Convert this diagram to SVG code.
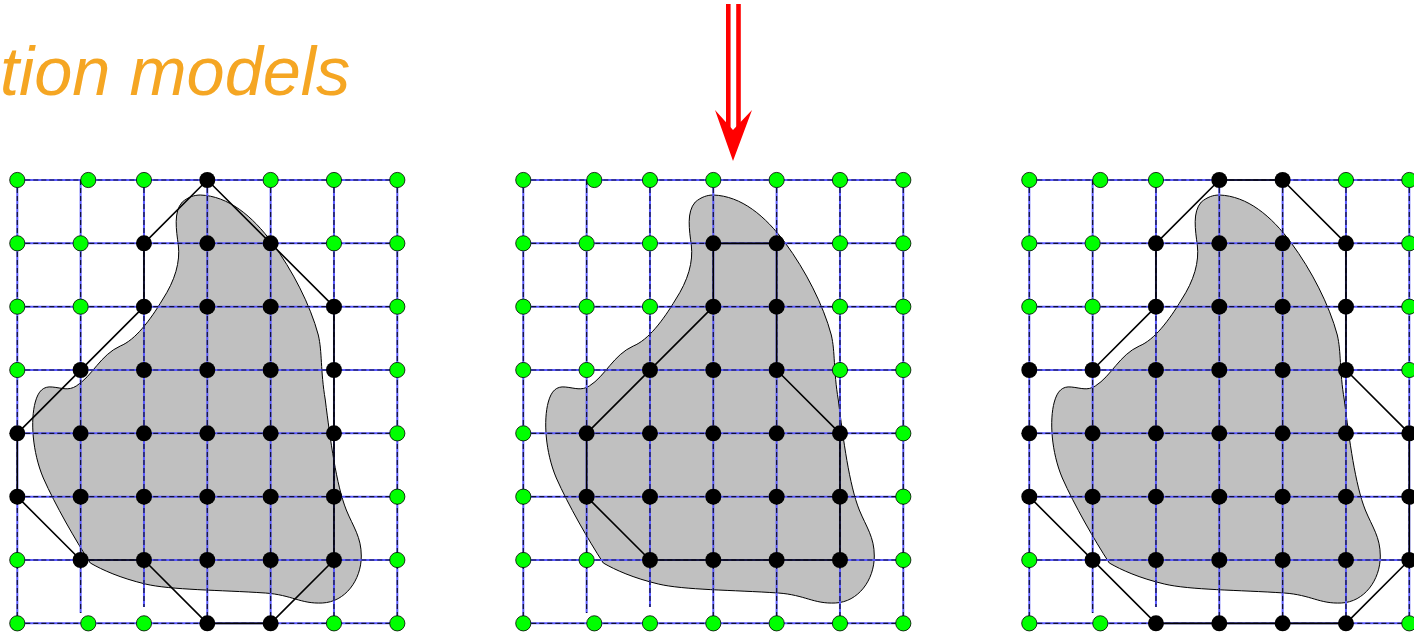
<svg xmlns="http://www.w3.org/2000/svg" xmlns:xlink="http://www.w3.org/1999/xlink" width="1414" height="635" viewBox="0 0 1414 635">
<style>
.title{font-family:"Liberation Sans",Arial,sans-serif;font-style:italic;font-size:68.5px;fill:#F5A623}
.gbase{fill:none;stroke:#5a5aff;stroke-width:2}
.gdash{fill:none;stroke:#111133;stroke-width:1.2;stroke-dasharray:5 3}
.blob{fill:#c0c0c0;stroke:#000;stroke-width:1}
.contour{fill:none;stroke:#000;stroke-width:1.6;stroke-linejoin:round}
.arrow{stroke:#ff0000;stroke-width:4.6;fill:none}
</style>
<defs>
<circle id="gd" r="7.6" fill="#00ff00" stroke="#000" stroke-width="0.8"/>
<circle id="bd" r="8" fill="#000"/>
<path id="grid" d="M0 0H380M0 63.33H380M0 126.67H380M0 190H380M0 253.33H380M0 316.67H380M0 380H380M0 443.33H380M0 0V443.33M63.33 0V433M126.67 0V427M190 0V443.33M253.33 0V443.33M316.67 0V443.33M380 0V443.33"/>
<path id="blobshape" d="M190,15 C218,16 242,36 262,63 C282,90 300,125 308,155 C312,172 310,190 315,220 C320,260 326,305 336,330 C343,347 351,357 351,376 C351,400 335,422 312,423 C290,424 282,415 255,413 C210,410 160,410 135,404 C110,398 92,390 80,383 C65,360 45,325 33,298 C22,272 20,240 25,222 C28,211 33,206 42,207 C52,208 58,211 66,206 C82,196 90,175 110,166 C125,160 140,140 152,120 C165,100 170,82 168,65 C166,50 163,32 172,22 C178,17 184,15 190,15 Z"/>
</defs>

<text class="title" x="0" y="95">tion models</text>

<g id="arrow">
<line class="arrow" x1="728.3" y1="4" x2="728.3" y2="128"/>
<line class="arrow" x1="738.5" y1="4" x2="738.5" y2="128"/>
<polygon points="715,110 733,130 752,110 733,161" fill="#ff0000"/>
</g>

<g id="panel1" transform="translate(17.3,180)">
<use href="#blobshape" class="blob" transform="translate(-7,0)"/>
<g id="grid1"><use href="#grid" class="gbase"/><use href="#grid" class="gdash"/></g>
<polygon id="contour1" class="contour" points="190,0 316.67,126.67 316.67,380 253.33,443.33 190,443.33 126.67,380 63.33,380 0,316.67 0,253.33 126.67,126.67 126.67,63.33"/>
<g id="dots1">
<use href="#gd" x="0" y="0"/><use href="#gd" x="71" y="0"/><use href="#gd" x="126.67" y="0"/><use href="#bd" x="190" y="0"/><use href="#gd" x="253.33" y="0"/><use href="#gd" x="316.67" y="0"/><use href="#gd" x="380" y="0"/>
<use href="#gd" x="0" y="63.33"/><use href="#gd" x="63.33" y="63.33"/><use href="#bd" x="126.67" y="63.33"/><use href="#bd" x="190" y="63.33"/><use href="#bd" x="253.33" y="63.33"/><use href="#gd" x="316.67" y="63.33"/><use href="#gd" x="380" y="63.33"/>
<use href="#gd" x="0" y="126.67"/><use href="#gd" x="63.33" y="126.67"/><use href="#bd" x="126.67" y="126.67"/><use href="#bd" x="190" y="126.67"/><use href="#bd" x="253.33" y="126.67"/><use href="#bd" x="316.67" y="126.67"/><use href="#gd" x="380" y="126.67"/>
<use href="#gd" x="0" y="190"/><use href="#bd" x="63.33" y="190"/><use href="#bd" x="126.67" y="190"/><use href="#bd" x="190" y="190"/><use href="#bd" x="253.33" y="190"/><use href="#bd" x="316.67" y="190"/><use href="#gd" x="380" y="190"/>
<use href="#bd" x="0" y="253.33"/><use href="#bd" x="63.33" y="253.33"/><use href="#bd" x="126.67" y="253.33"/><use href="#bd" x="190" y="253.33"/><use href="#bd" x="253.33" y="253.33"/><use href="#bd" x="316.67" y="253.33"/><use href="#gd" x="380" y="253.33"/>
<use href="#bd" x="0" y="316.67"/><use href="#bd" x="63.33" y="316.67"/><use href="#bd" x="126.67" y="316.67"/><use href="#bd" x="190" y="316.67"/><use href="#bd" x="253.33" y="316.67"/><use href="#bd" x="316.67" y="316.67"/><use href="#gd" x="380" y="316.67"/>
<use href="#gd" x="0" y="380"/><use href="#bd" x="63.33" y="380"/><use href="#bd" x="126.67" y="380"/><use href="#bd" x="190" y="380"/><use href="#bd" x="253.33" y="380"/><use href="#bd" x="316.67" y="380"/><use href="#gd" x="380" y="380"/>
<use href="#gd" x="0" y="443.33"/><use href="#gd" x="71" y="443.33"/><use href="#gd" x="126.67" y="443.33"/><use href="#bd" x="190" y="443.33"/><use href="#bd" x="253.33" y="443.33"/><use href="#gd" x="316.67" y="443.33"/><use href="#gd" x="380" y="443.33"/>
</g>
</g>

<g id="panel2" transform="translate(523.3,180)">
<use href="#blobshape" class="blob"/>
<g id="grid2"><use href="#grid" class="gbase"/><use href="#grid" class="gdash"/></g>
<polygon id="contour2" class="contour" points="190,63.33 253.33,63.33 253.33,190 316.67,253.33 316.67,380 126.67,380 63.33,316.67 63.33,253.33 190,126.67"/>
<g id="dots2">
<use href="#gd" x="0" y="0"/><use href="#gd" x="71" y="0"/><use href="#gd" x="126.67" y="0"/><use href="#gd" x="190" y="0"/><use href="#gd" x="253.33" y="0"/><use href="#gd" x="316.67" y="0"/><use href="#gd" x="380" y="0"/>
<use href="#gd" x="0" y="63.33"/><use href="#gd" x="63.33" y="63.33"/><use href="#gd" x="126.67" y="63.33"/><use href="#bd" x="190" y="63.33"/><use href="#bd" x="253.33" y="63.33"/><use href="#gd" x="316.67" y="63.33"/><use href="#gd" x="380" y="63.33"/>
<use href="#gd" x="0" y="126.67"/><use href="#gd" x="63.33" y="126.67"/><use href="#gd" x="126.67" y="126.67"/><use href="#bd" x="190" y="126.67"/><use href="#bd" x="253.33" y="126.67"/><use href="#gd" x="316.67" y="126.67"/><use href="#gd" x="380" y="126.67"/>
<use href="#gd" x="0" y="190"/><use href="#gd" x="63.33" y="190"/><use href="#bd" x="126.67" y="190"/><use href="#bd" x="190" y="190"/><use href="#bd" x="253.33" y="190"/><use href="#gd" x="316.67" y="190"/><use href="#gd" x="380" y="190"/>
<use href="#gd" x="0" y="253.33"/><use href="#bd" x="63.33" y="253.33"/><use href="#bd" x="126.67" y="253.33"/><use href="#bd" x="190" y="253.33"/><use href="#bd" x="253.33" y="253.33"/><use href="#bd" x="316.67" y="253.33"/><use href="#gd" x="380" y="253.33"/>
<use href="#gd" x="0" y="316.67"/><use href="#bd" x="63.33" y="316.67"/><use href="#bd" x="126.67" y="316.67"/><use href="#bd" x="190" y="316.67"/><use href="#bd" x="253.33" y="316.67"/><use href="#bd" x="316.67" y="316.67"/><use href="#gd" x="380" y="316.67"/>
<use href="#gd" x="0" y="380"/><use href="#gd" x="63.33" y="380"/><use href="#bd" x="126.67" y="380"/><use href="#bd" x="190" y="380"/><use href="#bd" x="253.33" y="380"/><use href="#bd" x="316.67" y="380"/><use href="#gd" x="380" y="380"/>
<use href="#gd" x="0" y="443.33"/><use href="#gd" x="71" y="443.33"/><use href="#gd" x="126.67" y="443.33"/><use href="#gd" x="190" y="443.33"/><use href="#gd" x="253.33" y="443.33"/><use href="#gd" x="316.67" y="443.33"/><use href="#gd" x="380" y="443.33"/>
</g>
</g>

<g id="panel3" transform="translate(1029.3,180)">
<use href="#blobshape" class="blob"/>
<g id="grid3"><use href="#grid" class="gbase"/><use href="#grid" class="gdash"/></g>
<polyline id="contour3" class="contour" points="63.33,190 126.67,126.67 126.67,63.33 190,0 253.33,0 316.67,63.33 316.67,190 380,253.33 380,380 316.67,443.33 126.67,443.33 0,316.67"/>
<g id="dots3">
<use href="#gd" x="0" y="0"/><use href="#gd" x="71" y="0"/><use href="#gd" x="126.67" y="0"/><use href="#bd" x="190" y="0"/><use href="#bd" x="253.33" y="0"/><use href="#gd" x="316.67" y="0"/><use href="#gd" x="380" y="0"/>
<use href="#gd" x="0" y="63.33"/><use href="#gd" x="63.33" y="63.33"/><use href="#bd" x="126.67" y="63.33"/><use href="#bd" x="190" y="63.33"/><use href="#bd" x="253.33" y="63.33"/><use href="#bd" x="316.67" y="63.33"/><use href="#gd" x="380" y="63.33"/>
<use href="#gd" x="0" y="126.67"/><use href="#gd" x="63.33" y="126.67"/><use href="#bd" x="126.67" y="126.67"/><use href="#bd" x="190" y="126.67"/><use href="#bd" x="253.33" y="126.67"/><use href="#bd" x="316.67" y="126.67"/><use href="#gd" x="380" y="126.67"/>
<use href="#bd" x="0" y="190"/><use href="#bd" x="63.33" y="190"/><use href="#bd" x="126.67" y="190"/><use href="#bd" x="190" y="190"/><use href="#bd" x="253.33" y="190"/><use href="#bd" x="316.67" y="190"/><use href="#gd" x="380" y="190"/>
<use href="#bd" x="0" y="253.33"/><use href="#bd" x="63.33" y="253.33"/><use href="#bd" x="126.67" y="253.33"/><use href="#bd" x="190" y="253.33"/><use href="#bd" x="253.33" y="253.33"/><use href="#bd" x="316.67" y="253.33"/><use href="#bd" x="380" y="253.33"/>
<use href="#bd" x="0" y="316.67"/><use href="#bd" x="63.33" y="316.67"/><use href="#bd" x="126.67" y="316.67"/><use href="#bd" x="190" y="316.67"/><use href="#bd" x="253.33" y="316.67"/><use href="#bd" x="316.67" y="316.67"/><use href="#bd" x="380" y="316.67"/>
<use href="#gd" x="0" y="380"/><use href="#bd" x="63.33" y="380"/><use href="#bd" x="126.67" y="380"/><use href="#bd" x="190" y="380"/><use href="#bd" x="253.33" y="380"/><use href="#bd" x="316.67" y="380"/><use href="#bd" x="380" y="380"/>
<use href="#gd" x="0" y="443.33"/><use href="#gd" x="71" y="443.33"/><use href="#bd" x="126.67" y="443.33"/><use href="#bd" x="190" y="443.33"/><use href="#bd" x="253.33" y="443.33"/><use href="#bd" x="316.67" y="443.33"/><use href="#gd" x="380" y="443.33"/>
</g>
</g>
</svg>
